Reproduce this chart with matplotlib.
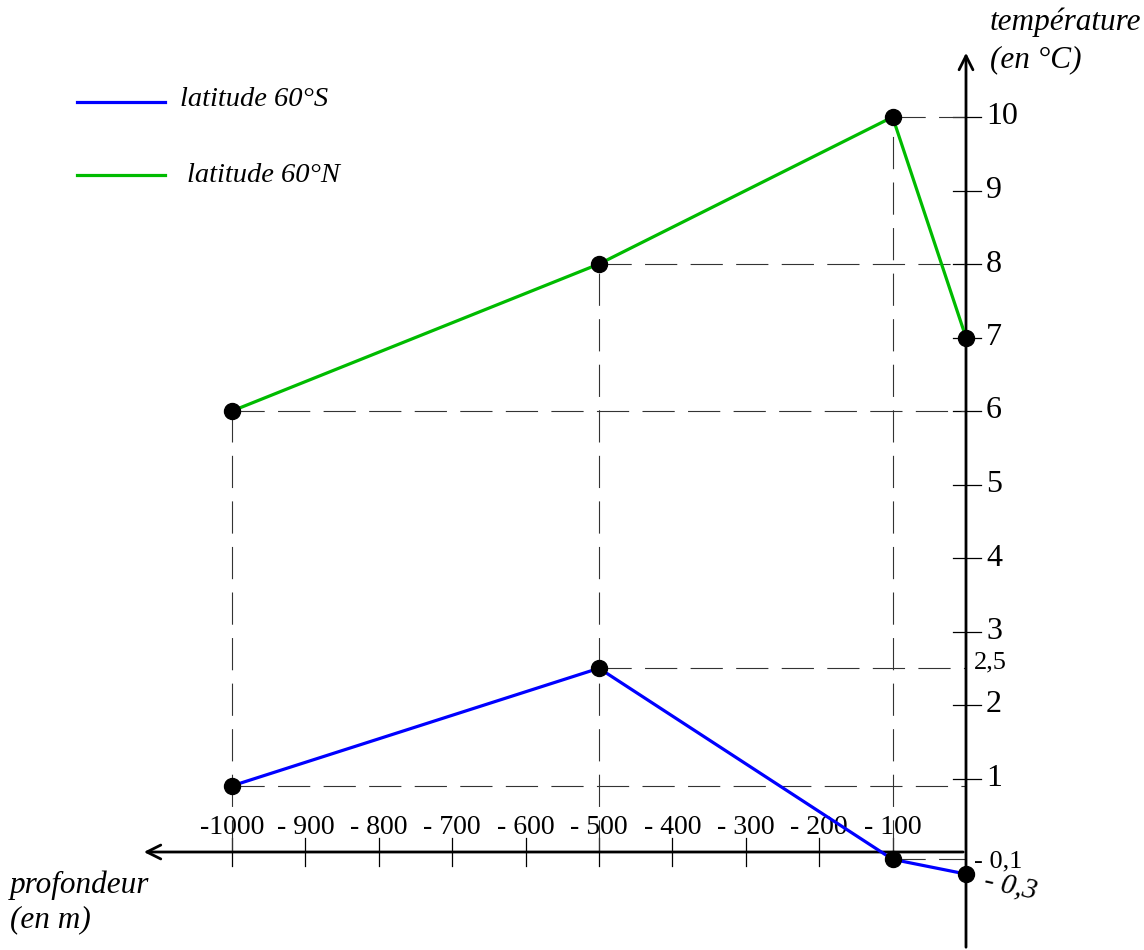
import matplotlib.pyplot as plt

# profondeur (m) et température (°C)
profondeur = [-1000, -500, -100, 0]
temp_sud = [0.9, 2.5, -0.1, -0.3]
temp_nord = [6, 8, 10, 7]

x_ticks = [-1000, -900, -800, -700, -600, -500, -400, -300, -200, -100]
x_labels = ['-1000', '- 900', '- 800', '- 700', '- 600', '- 500', '- 400', '- 300', '- 200', '- 100']
y_ticks = [1, 2, 3, 4, 5, 6, 7, 8, 9, 10]

plt.rcParams['font.family'] = ['Liberation Serif', 'DejaVu Serif']

fig = plt.figure(figsize=(11.44, 9.5), dpi=100)
ax = fig.add_axes([0, 0, 1, 1])
ax.axis('off')

# échelle : 0 m -> 966 px, -1000 m -> 232 px ; 0 °C -> 852 px, 10 °C -> 117 px
sx = (966 - 232) / 1000
sy = (852 - 117) / 10
ax.set_xlim(-966 / sx, (1144 - 966) / sx)
ax.set_ylim((852 - 950) / sy, 852 / sy)

def px(u):
    return u / sx

def py(v):
    return v / sy

# axes avec flèches
ax.annotate('', xy=(px(-825), 0), xytext=(0, 0),
            arrowprops=dict(arrowstyle='->', lw=2, color='black', mutation_scale=25))
ax.annotate('', xy=(0, py(802)), xytext=(0, py(-98)),
            arrowprops=dict(arrowstyle='->', lw=2, color='black', mutation_scale=25))

# graduations
for t in x_ticks:
    ax.plot([t, t], [-py(14), py(14)], color='black', lw=0.9)
for t, lab in zip(x_ticks, x_labels):
    ax.text(t, py(25), lab, ha='center', va='center', fontsize=20)
for t in y_ticks:
    ax.plot([-px(13), px(15)], [t, t], color='black', lw=0.9)
    ax.text(px(20), t, str(t), ha='left', va='center', fontsize=23)
ax.text(px(8), 2.5 + py(6), '2,5', ha='left', va='center', fontsize=19)
ax.text(px(8), -0.1 + py(-2), '- 0,1', ha='left', va='center', fontsize=19)
ax.text(px(16), -0.3 + py(-12), '- 0,3', ha='left', va='center', fontsize=21,
        style='italic', rotation=-12)

# pointillés de lecture
dash = dict(color='#333333', lw=0.8, dashes=(29, 12))
for x, y in zip(profondeur[:3], temp_nord[:3]):
    ax.plot([x, x], [0, y], **dash)
    ax.plot([x, 0], [y, y], **dash)
for x, y in zip(profondeur[:3], temp_sud[:3]):
    ax.plot([x, 0], [y, y], **dash)

# courbes
ax.plot(profondeur, temp_sud, color='#0000ff', lw=2.3, marker='o', ms=11.5,
        mfc='black', mec='black', zorder=5)
ax.plot(profondeur, temp_nord, color='#00bb00', lw=2.3, marker='o', ms=11.5,
        mfc='black', mec='black', zorder=5)

# légende
ax.plot([px(77 - 966), px(165 - 966)], [py(852 - 102)] * 2, color='#0000ff', lw=2.3)
ax.text(px(180 - 966), py(852 - 100), 'latitude 60°S', ha='left', va='center',
        fontsize=20.5, style='italic')
ax.plot([px(77 - 966), px(165 - 966)], [py(852 - 175)] * 2, color='#00bb00', lw=2.3)
ax.text(px(187 - 966), py(852 - 175), 'latitude 60°N', ha='left', va='center',
        fontsize=20.5, style='italic')

# titres des axes
ax.text(px(990 - 966), py(852 - 22), 'température', ha='left', va='center',
        fontsize=22.5, style='italic')
ax.text(px(990 - 966), py(852 - 60), '(en °C)', ha='left', va='center',
        fontsize=22.5, style='italic')
ax.text(px(10 - 966), py(852 - 885), 'profondeur', ha='left', va='center',
        fontsize=22.5, style='italic')
ax.text(px(10 - 966), py(852 - 920), '(en m)', ha='left', va='center',
        fontsize=22.5, style='italic')

fig.savefig('out.png', dpi=100)
